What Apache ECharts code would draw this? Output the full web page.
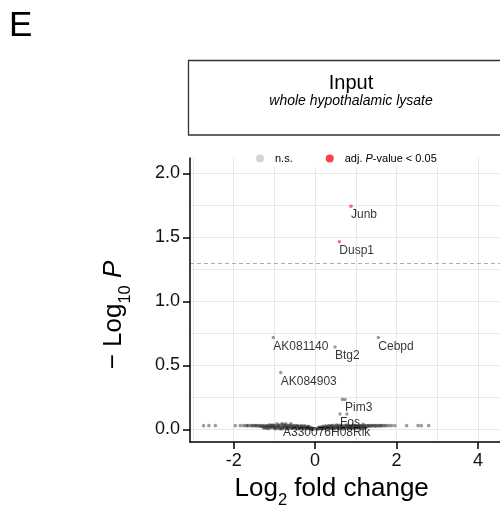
<!DOCTYPE html>
<html>
<head>
<meta charset="utf-8">
<script src="https://cdn.jsdelivr.net/npm/echarts@6/dist/echarts.min.js"></script>
<style>html,body{margin:0;padding:0;background:#fff;}#c{width:500px;height:508px;}</style>
</head>
<body>
<div id="c"></div>
<script>
// ---- data ----
const xTickLabels = [-2, 0, 2, 4];
const yTickLabels = [0, 0.5, 1.0, 1.5, 2.0];
const xGridValues = [-3, -2, -1, 0, 1, 2, 3, 4];
const yGridValues = [0, 0.25, 0.5, 0.75, 1.0, 1.25, 1.5, 1.75, 2.0];
const pThreshold = 1.301; // -log10(0.05)

// non-significant genes (unlabelled)
const nsX = [
  -2.74,-2.61,-2.45,-1.96,-1.84,-1.76,-1.70,-1.64,-1.58,-1.52,-1.46,-1.41,-1.37,-1.33,-1.30,
  -1.27,-1.25,-1.22,-1.20,-1.18,-1.16,-1.14,-1.12,-1.10,-1.08,-1.06,-1.04,-1.02,-1.00,-0.98,-0.96,-0.94,-0.92,-0.90,-0.88,
  -0.86,-0.84,-0.82,-0.80,-0.78,-0.76,-0.74,-0.72,-0.70,-0.68,-0.66,-0.64,-0.62,-0.60,-0.58,-0.56,-0.54,-0.52,-0.50,-0.48,
  -0.46,-0.44,-0.42,-0.40,-0.38,-0.36,-0.34,-0.32,-0.30,-0.28,-0.26,-0.24,-0.22,-0.20,-0.18,-0.16,-0.14,-0.12,-0.10,-0.08,-0.06,-0.04,
  -1.19,-1.11,-1.03,-0.97,-0.89,-0.81,-0.73,-0.65,-0.57,-0.49,-0.41,-0.33,-0.25,-0.17,-0.09,
  -1.29,-1.23,-1.15,-1.07,-0.99,-0.91,-0.83,-0.75,-0.67,-0.59,-0.51,-0.43,-0.35,-0.27,-0.19,-0.13,-0.07,
  -1.26,-1.17,-1.09,-1.01,-0.93,-0.85,-0.77,-0.69,-0.61,-0.53,-0.45,-0.37,-0.29,-0.21,-0.15,
  0.04,0.06,0.08,0.10,0.12,0.14,0.16,0.18,0.20,0.22,0.24,0.26,0.28,0.30,0.32,0.34,0.36,0.38,0.40,0.42,0.44,0.46,0.48,0.50,
  0.52,0.54,0.56,0.58,0.60,0.62,0.64,0.66,0.68,0.70,0.72,0.74,0.76,0.78,0.80,0.82,0.84,0.86,0.88,0.90,0.92,0.94,0.96,0.98,
  1.00,1.02,1.04,1.06,1.08,1.10,1.12,1.14,1.16,1.18,1.20,1.22,1.25,1.28,
  0.09,0.17,0.27,0.35,0.45,0.53,0.61,0.69,0.77,0.85,0.93,1.01,1.09,1.17,
  0.13,0.21,0.29,0.37,0.43,0.49,0.57,0.65,0.73,0.81,0.89,0.97,1.05,1.13,1.21,1.27,
  0.11,0.19,0.25,0.33,0.39,0.47,0.55,0.63,0.71,0.79,0.87,0.95,1.03,1.11,1.19,1.24,
  1.31,1.34,1.38,1.42,1.46,1.50,1.54,1.59,1.64,1.68,1.76,1.88,1.96,2.25,2.53,2.61,2.79,
  1.33,1.40,1.48,1.56,1.62,1.72,1.82,-1.35,-1.44,-1.55,-1.67,-1.49,
  0.67,0.78,1.18
];
const nsY = [
  0.03,0.03,0.03,0.03,0.03,0.03,0.03,0.03,0.03,0.029,0.03,0.028,0.03,0.027,0.03,
  0.025,0.03,0.022,0.03,0.018,0.027,0.032,0.02,0.012,0.025,0.03,0.015,0.022,0.008,0.028,0.018,0.045,0.01,0.026,0.02,
  0.005,0.03,0.045,0.015,0.022,0.01,0.028,0.045,0.018,0.025,0.008,0.03,0.015,0.045,0.022,0.012,0.028,0.018,0.025,0.008,
  0.02,0.03,0.014,0.024,0.01,0.027,0.018,0.022,0.006,0.025,0.015,0.02,0.01,0.022,0.014,0.018,0.008,0.012,0.005,0.008,0.003,0.002,
  0.01,0.035,0.035,0.005,0.035,0.005,0.035,0.02,0.034,0.03,0.004,0.03,0.028,0.025,0.015,
  0.02,0.012,0.006,0.032,0.016,0.03,0.012,0.02,0.03,0.008,0.02,0.026,0.012,0.018,0.01,0.006,0.004,
  0.012,0.024,0.02,0.03,0.022,0.008,0.032,0.004,0.026,0.01,0.022,0.006,0.014,0.004,0.022,
  0.003,0.004,0.01,0.006,0.015,0.01,0.022,0.012,0.025,0.008,0.02,0.028,0.015,0.022,0.005,0.03,0.018,0.025,0.01,0.028,0.02,0.032,0.008,0.024,
  0.016,0.03,0.012,0.026,0.02,0.006,0.03,0.018,0.024,0.012,0.03,0.02,0.028,0.008,0.025,0.016,0.03,0.02,0.01,0.026,0.018,0.03,0.014,0.024,
  0.03,0.02,0.028,0.012,0.026,0.03,0.02,0.028,0.025,0.03,0.022,0.03,0.027,0.03,
  0.018,0.004,0.006,0.012,0.004,0.035,0.032,0.004,0.035,0.006,0.035,0.01,0.015,0.012,
  0.008,0.016,0.02,0.006,0.018,0.012,0.006,0.022,0.014,0.02,0.012,0.022,0.016,0.006,0.014,0.02,
  0.012,0.008,0.018,0.024,0.028,0.014,0.022,0.01,0.016,0.026,0.022,0.008,0.018,0.024,0.008,0.016,
  0.03,0.03,0.03,0.03,0.03,0.03,0.03,0.03,0.03,0.03,0.03,0.03,0.03,0.03,0.03,0.03,0.03,
  0.025,0.028,0.026,0.028,0.03,0.03,0.03,0.026,0.03,0.03,0.03,0.03,
  0.235,0.121,0.04
];

// labelled non-significant genes
const labGenes = ['AK081140', 'Btg2', 'Cebpd', 'AK084903', 'Pim3', 'Fos', 'A330076H08Rik'];
const labX = [-1.027, 0.489, 1.553, -0.845, 0.737, 0.61, -0.79];
const labY = [0.719, 0.645, 0.719, 0.445, 0.235, 0.121, 0.04];

// significant genes (adj. P < 0.05)
const sigGenes = ['Junb', 'Dusp1'];
const sigX = [0.882, 0.595];
const sigY = [1.745, 1.466];

const nsName = 'n.s.';
const sigName = 'adj. P-value < 0.05';

// ---- chart ----
const FONT = 'Liberation Sans, Arial, Helvetica, sans-serif';
const chart = echarts.init(document.getElementById('c'), null, {renderer: 'canvas'});

const xMin = -3.074, xMax = 4.936, yMin = -0.0977, yMax = 2.121;
const nsColor = 'rgba(55,55,55,0.62)';
const sigColor = 'rgba(255,20,30,0.8)';
const pointLabel = {
  show: true, position: [1.75, 10.5], align: 'left', verticalAlign: 'middle',
  fontSize: 12, fontFamily: FONT, color: '#000',
  formatter: function (p) { return p.name; }
};

const option = {
  animation: false,
  backgroundColor: '#fff',
  grid: {left: 190, top: 158, width: 326, height: 284, outerBoundsMode: 'none', containLabel: false},
  legend: {
    left: 248, top: 150, padding: [3, 8, 3, 8], backgroundColor: '#fff',
    icon: 'circle', itemWidth: 8, itemHeight: 8, itemGap: 33,
    data: [
      {name: nsName, itemStyle: {color: '#c9c9c9'}},
      {name: sigName, itemStyle: {color: '#ff1010'}}
    ],
    formatter: function (n) { return n === sigName ? '{a|adj. }{i|P}{a|-value < 0.05}' : '{a|' + n + '}'; },
    textStyle: {
      fontFamily: FONT, fontSize: 11, color: '#000', padding: [0, 0, 0, 6],
      rich: {a: {fontSize: 11, fontFamily: FONT, color: '#000'}, i: {fontSize: 11, fontFamily: FONT, fontStyle: 'italic', color: '#000'}}
    }
  },
  xAxis: [
    {
      type: 'value', min: xMin, max: xMax, position: 'bottom', z: 5,
      axisLine: {show: true, onZero: false, lineStyle: {color: '#000', width: 1.5}},
      axisTick: {show: true, length: 7, customValues: xTickLabels, lineStyle: {color: '#000', width: 1.5}},
      axisLabel: {customValues: xTickLabels, margin: 10, fontSize: 18, fontFamily: FONT, color: '#111'},
      splitLine: {show: false}
    },
    {
      type: 'value', min: xMin, max: xMax, position: 'bottom',
      axisLine: {show: false}, axisTick: {show: false, customValues: xGridValues},
      axisLabel: {show: false, customValues: xGridValues},
      splitLine: {show: true, lineStyle: {color: '#e8e8e8', width: 1}}
    }
  ],
  yAxis: [
    {
      type: 'value', min: yMin, max: yMax, position: 'left', z: 5,
      axisLine: {show: true, onZero: false, lineStyle: {color: '#000', width: 1.5}},
      axisTick: {show: true, length: 7, customValues: yTickLabels, lineStyle: {color: '#000', width: 1.5}},
      axisLabel: {customValues: yTickLabels, margin: 10, fontSize: 18, fontFamily: FONT, color: '#111',
        formatter: function (v) { return Number(v).toFixed(1); }},
      splitLine: {show: false}
    },
    {
      type: 'value', min: yMin, max: yMax, position: 'left',
      axisLine: {show: false}, axisTick: {show: false, customValues: yGridValues},
      axisLabel: {show: false, customValues: yGridValues},
      splitLine: {show: true, lineStyle: {color: '#e8e8e8', width: 1}}
    }
  ],
  series: [
    {
      name: nsName, type: 'scatter', symbolSize: 3.6, silent: true,
      itemStyle: {color: nsColor},
      data: nsX.map((x, i) => [x, nsY[i]]),
      markLine: {
        silent: true, symbol: 'none', label: {show: false},
        lineStyle: {color: '#9a9a9a', type: [4, 3], width: 0.8},
        data: [{yAxis: pThreshold}]
      }
    },
    {
      name: nsName, type: 'scatter', symbolSize: 3.5, silent: true,
      itemStyle: {color: nsColor}, label: pointLabel,
      data: labGenes.map((g, i) => ({name: g, value: [labX[i], labY[i]]})),
      labelLayout: {hideOverlap: false}
    },
    {
      name: sigName, type: 'scatter', symbolSize: 3.5, silent: true,
      itemStyle: {color: sigColor}, label: pointLabel,
      data: sigGenes.map((g, i) => ({name: g, value: [sigX[i], sigY[i]]}))
    }
  ],
  graphic: [
    {type: 'text', x: 9, y: 26, style: {text: 'E', fontSize: 35, fontFamily: FONT, fill: '#000', align: 'left', verticalAlign: 'middle'}},
    {type: 'rect', shape: {x: 188.5, y: 60.5, width: 340, height: 74.5}, style: {fill: 'none', stroke: '#333', lineWidth: 1.3}},
    {type: 'text', x: 351, y: 83, style: {text: 'Input', fontSize: 20, fontFamily: FONT, fill: '#000', align: 'center', verticalAlign: 'middle'}},
    {type: 'text', x: 351, y: 101, style: {text: 'whole hypothalamic lysate', fontSize: 14, fontStyle: 'italic', fontFamily: FONT, fill: '#000', align: 'center', verticalAlign: 'middle'}},
    {type: 'text', x: 331.7, y: 489, style: {
      text: '{m|Log}{s|2}{m| fold change}', align: 'center', verticalAlign: 'middle',
      rich: {m: {fontSize: 26, lineHeight: 40, fontFamily: FONT, fill: '#000'}, s: {fontSize: 16.5, lineHeight: 16, verticalAlign: 'bottom', fontFamily: FONT, fill: '#000'}}
    }},
    {type: 'text', x: 114, y: 315, rotation: Math.PI / 2, style: {
      text: '{m|\u2212 Log}{s|10}{m| }{i|P}', align: 'center', verticalAlign: 'middle',
      rich: {m: {fontSize: 26, lineHeight: 40, fontFamily: FONT, fill: '#000'},
             i: {fontSize: 26, lineHeight: 40, fontFamily: FONT, fontStyle: 'italic', fill: '#000'},
             s: {fontSize: 16.5, lineHeight: 16, verticalAlign: 'bottom', fontFamily: FONT, fill: '#000'}}
    }}
  ]
};
chart.setOption(option);
</script>
</body>
</html>
